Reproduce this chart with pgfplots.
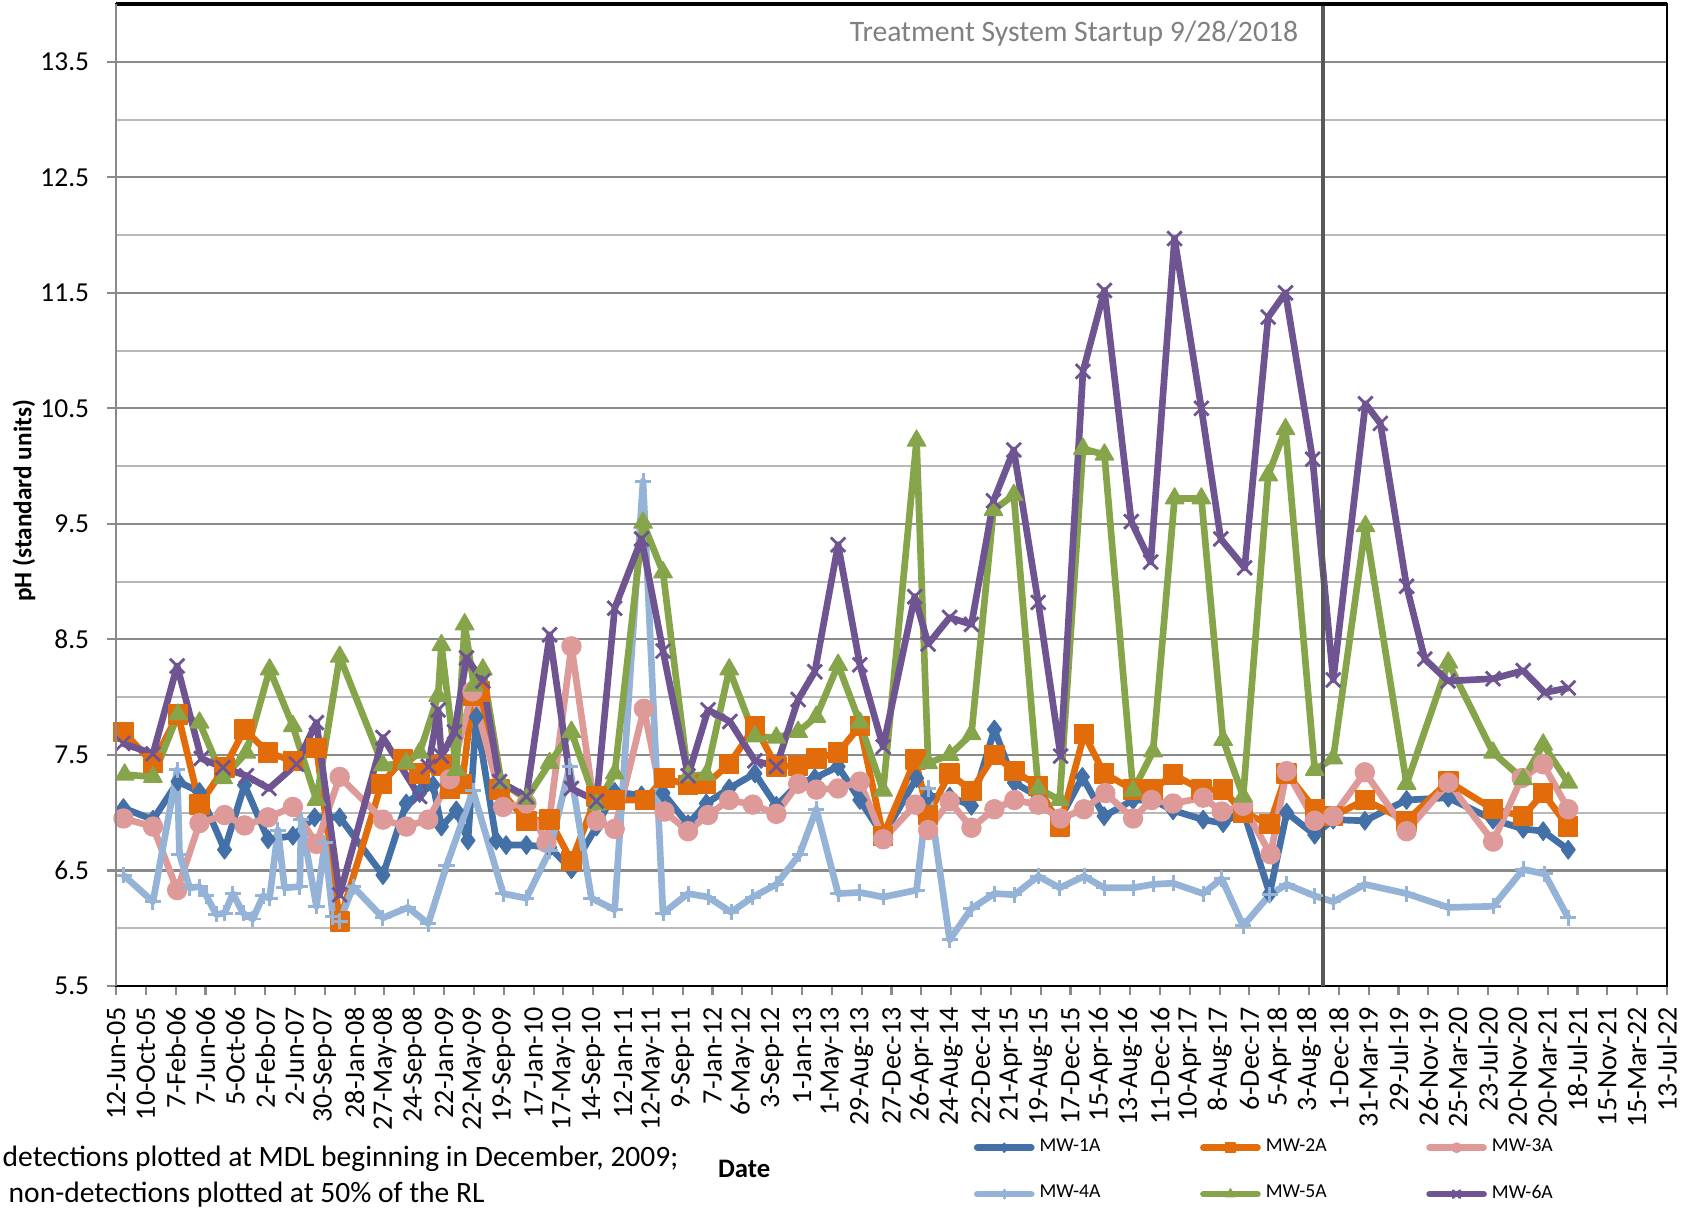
\documentclass[border=0pt]{standalone}
\usepackage{pgfplots}
\usepackage{pgfplotstable}
\pgfplotsset{compat=1.18}
\usepackage{fontspec}
\setmainfont{Carlito}

\definecolor{cA}{HTML}{4470A8}
\definecolor{cB}{HTML}{E36C0A}
\definecolor{cC}{HTML}{DD9A98}
\definecolor{cD}{HTML}{95B3D7}
\definecolor{cE}{HTML}{86A44A}
\definecolor{cF}{HTML}{6F5492}
\definecolor{gmaj}{HTML}{8A8A8A}
\definecolor{gmin}{HTML}{B8B8B8}

% x = position in units of the 120-day tick interval from 12-Jun-05
\pgfplotstableread{
t v
0.25 7.04
1.24 6.94
2.08 7.27
2.80 7.18
3.64 6.68
4.31 7.24
5.10 6.77
5.93 6.80
6.66 6.96
7.50 6.96
8.95 6.46
9.73 7.08
10.18 7.17
10.63 7.24
10.91 6.88
11.41 7.02
11.80 6.76
12.08 7.83
12.75 6.76
13.08 6.72
13.76 6.72
14.54 6.70
15.27 6.51
16.11 6.88
16.72 7.18
17.62 7.15
18.34 7.17
19.18 6.90
19.79 7.08
20.56 7.21
21.42 7.34
22.14 7.06
22.87 7.25
23.43 7.30
24.21 7.40
24.94 7.11
25.72 6.80
26.84 7.30
27.23 7.14
27.95 7.14
28.68 7.06
29.45 7.72
30.12 7.26
30.92 7.14
31.64 6.94
32.40 7.31
33.13 6.97
34.10 7.11
34.77 7.11
35.44 7.02
36.45 6.94
37.12 6.91
37.79 7.02
38.68 6.30
39.25 7.00
40.19 6.81
40.81 6.94
41.87 6.93
43.27 7.11
44.67 7.13
46.17 6.94
47.18 6.86
47.85 6.84
48.69 6.68
}\mwA

\pgfplotstableread{
t v
0.25 7.70
1.24 7.43
2.08 7.85
2.80 7.07
3.64 7.39
4.31 7.72
5.10 7.52
5.93 7.45
6.72 7.56
7.50 6.06
8.90 7.25
9.62 7.46
10.18 7.34
10.91 7.41
11.19 7.21
11.60 7.25
11.97 8.01
12.20 8.05
12.86 7.20
13.76 6.93
14.54 6.94
15.27 6.58
16.11 7.14
16.72 7.11
17.73 7.11
18.39 7.30
19.18 7.24
19.79 7.25
20.56 7.42
21.42 7.75
22.14 7.40
22.87 7.41
23.48 7.47
24.21 7.52
24.94 7.75
25.72 6.80
26.80 7.46
27.23 6.98
27.95 7.34
28.68 7.19
29.45 7.50
30.12 7.36
30.92 7.23
31.64 6.88
32.46 7.68
33.13 7.34
34.10 7.20
34.77 7.20
35.44 7.33
36.39 7.20
37.12 7.20
37.79 7.00
38.68 6.90
39.25 7.34
40.19 7.03
40.81 6.97
41.87 7.11
43.27 6.93
44.67 7.27
46.17 7.03
47.18 6.97
47.85 7.17
48.69 6.88
}\mwB

\pgfplotstableread{
t v
0.25 6.95
1.24 6.88
2.05 6.33
2.80 6.91
3.64 6.98
4.31 6.89
5.10 6.96
5.93 7.05
6.72 6.73
7.50 7.31
8.95 6.94
9.73 6.88
10.47 6.94
11.19 7.29
11.95 8.05
12.98 7.05
13.76 7.08
14.43 6.74
15.27 8.44
16.11 6.93
16.72 6.86
17.70 7.90
18.39 7.01
19.18 6.84
19.85 6.98
20.56 7.11
21.35 7.07
22.14 6.99
22.87 7.25
23.48 7.20
24.21 7.21
24.94 7.27
25.72 6.77
26.80 7.07
27.23 6.85
27.95 7.10
28.68 6.87
29.45 7.03
30.12 7.11
30.92 7.07
31.67 6.95
32.45 7.03
33.17 7.17
34.10 6.95
34.72 7.11
35.44 7.08
36.45 7.13
37.07 7.01
37.79 7.06
38.71 6.64
39.25 7.36
40.19 6.93
40.81 6.97
41.87 7.35
43.27 6.84
44.67 7.26
46.17 6.75
47.13 7.30
47.85 7.42
48.69 7.03
}\mwC

\pgfplotstableread{
t v
0.25 6.46
1.24 6.23
2.05 7.37
2.13 6.64
2.47 6.35
2.80 6.36
3.03 6.28
3.36 6.12
3.64 6.13
3.92 6.30
4.26 6.13
4.59 6.08
4.93 6.28
5.15 6.26
5.43 6.85
5.65 6.35
6.16 6.36
6.21 6.94
6.72 6.19
7.00 6.74
7.27 6.10
7.50 6.06
7.95 6.36
8.95 6.09
9.79 6.18
10.47 6.04
11.08 6.54
11.97 7.19
12.98 6.30
13.76 6.26
14.54 6.67
15.21 7.40
15.94 6.26
16.72 6.16
17.67 9.87
18.34 6.13
19.18 6.30
19.85 6.27
20.62 6.14
21.35 6.27
22.14 6.38
22.92 6.64
23.48 7.03
24.21 6.30
24.94 6.31
25.72 6.27
26.84 6.33
27.23 7.21
27.95 5.90
28.68 6.17
29.45 6.30
30.12 6.29
30.92 6.45
31.64 6.35
32.46 6.45
33.13 6.35
34.10 6.35
34.77 6.38
35.44 6.39
36.45 6.30
37.07 6.43
37.79 6.02
38.68 6.29
39.25 6.38
40.19 6.28
40.81 6.23
41.87 6.38
43.27 6.30
44.67 6.18
46.17 6.19
47.18 6.51
47.90 6.47
48.69 6.09
}\mwD

\pgfplotstableread{
t v
0.29 7.33
1.24 7.31
2.08 7.85
2.80 7.78
3.59 7.30
4.37 7.52
5.15 8.24
5.93 7.75
6.72 7.11
7.50 8.35
8.95 7.41
9.73 7.43
10.18 7.52
10.80 8.01
10.91 8.45
11.41 7.37
11.69 8.63
12.00 8.10
12.30 8.24
12.92 7.26
13.76 7.12
14.54 7.43
15.27 7.70
16.11 7.07
16.72 7.34
17.67 9.51
18.34 9.08
19.18 7.32
19.79 7.33
20.56 8.24
21.42 7.66
22.14 7.65
22.87 7.70
23.48 7.83
24.21 8.28
24.94 7.78
25.72 7.19
26.84 10.22
27.23 7.43
27.95 7.50
28.68 7.68
29.42 9.62
30.10 9.75
30.92 7.21
31.64 7.11
32.42 10.15
33.14 10.10
34.10 7.19
34.77 7.53
35.49 9.72
36.39 9.72
37.12 7.63
37.79 7.14
38.63 9.92
39.21 10.32
40.19 7.37
40.81 7.47
41.89 9.48
43.27 7.25
44.67 8.30
46.17 7.52
47.18 7.29
47.85 7.59
48.69 7.26
}\mwE

\pgfplotstableread{
t v
0.23 7.60
1.24 7.51
2.05 8.27
2.86 7.47
3.59 7.39
4.37 7.32
5.13 7.21
6.05 7.42
6.72 7.78
7.50 6.29
8.95 7.65
10.18 7.14
10.47 7.40
10.80 7.89
10.91 7.49
11.35 7.70
11.75 8.34
12.30 8.14
12.86 7.27
13.76 7.14
14.54 8.54
15.27 7.21
16.11 7.10
16.72 8.77
17.62 9.37
18.34 8.40
19.18 7.32
19.85 7.89
20.58 7.79
21.42 7.45
22.14 7.40
22.87 7.98
23.43 8.22
24.21 9.32
24.94 8.28
25.72 7.57
26.78 8.87
27.23 8.46
27.95 8.69
28.68 8.63
29.42 9.70
30.10 10.14
30.92 8.82
31.67 7.49
32.42 10.82
33.14 11.52
34.04 9.52
34.69 9.17
35.49 11.97
36.39 10.50
37.04 9.37
37.84 9.12
38.63 11.29
39.21 11.50
40.12 10.06
40.81 8.15
41.89 10.54
42.39 10.37
43.27 8.96
43.88 8.33
44.66 8.14
46.17 8.16
47.18 8.23
47.90 8.04
48.69 8.08
}\mwF

\begin{document}
\begin{tikzpicture}
\begin{axis}[
  name=main,
  at={(0,0)}, anchor=south west,
  width=155.1mm, height=98.2mm, scale only axis,
  xmin=0, xmax=52, ymin=5.5, ymax=14,
  xtick={0,1,...,52},
  xticklabels={12-Jun-05,10-Oct-05,7-Feb-06,7-Jun-06,5-Oct-06,2-Feb-07,2-Jun-07,30-Sep-07,28-Jan-08,27-May-08,24-Sep-08,22-Jan-09,22-May-09,19-Sep-09,17-Jan-10,17-May-10,14-Sep-10,12-Jan-11,12-May-11,9-Sep-11,7-Jan-12,6-May-12,3-Sep-12,1-Jan-13,1-May-13,29-Aug-13,27-Dec-13,26-Apr-14,24-Aug-14,22-Dec-14,21-Apr-15,19-Aug-15,17-Dec-15,15-Apr-16,13-Aug-16,11-Dec-16,10-Apr-17,8-Aug-17,6-Dec-17,5-Apr-18,3-Aug-18,1-Dec-18,31-Mar-19,29-Jul-19,26-Nov-19,25-Mar-20,23-Jul-20,20-Nov-20,20-Mar-21,18-Jul-21,15-Nov-21,15-Mar-22,13-Jul-22},
  xticklabel style={rotate=90, anchor=east, font=\fontsize{8}{9}\selectfont},
  ytick={5.5,6.5,...,13.5},
  minor ytick={6,7,...,14},
  yticklabel style={font=\fontsize{7.8}{9}\selectfont, xshift=-0.6mm},
  /pgf/number format/.cd, fixed, fixed zerofill, precision=1, assume math mode=true,
  /pgfplots/.cd,
  xtick pos=bottom, ytick pos=left,
  tick align=outside,
  major tick length=0.85mm,
  minor tick length=0pt,
  tick style={gmaj, line width=0.6pt},
  ymajorgrids, yminorgrids,
  major grid style={gmaj, line width=0.6pt},
  minor grid style={gmin, line width=0.6pt},
  axis line style={black, line width=0.7pt},
  xlabel={Date},
  xlabel style={font=\fontsize{7.6}{9}\selectfont\bfseries, at={(axis description cs:0.405,-0.1866)}, anchor=center},
  ylabel={pH (standard units)},
  ylabel style={font=\fontsize{7.2}{9}\selectfont\bfseries, at={(axis description cs:-0.0593,0.494)}, anchor=center},
  legend columns=3,
  legend cell align=left,
  legend style={at={(axis description cs:0.5527,-0.1537)}, anchor=north west, draw=none, fill=none,
    inner sep=0pt, font=\fontsize{5.6}{6}\selectfont, row sep=2.6mm, column sep=0pt,
    nodes={inner sep=0.3pt},
    /tikz/every odd column/.append style={column sep=0.4mm},
    /tikz/every even column/.append style={column sep=9.85mm}},
  legend image code/.code={%
    \draw[#1, line cap=round, every mark/.append style={scale=0.5}, mark repeat=2, mark phase=2]
      plot coordinates {(0mm,0mm) (2.7mm,0mm) (5.4mm,0mm)};},
  every axis plot/.append style={line width=1.9pt, line join=round},
]
\addplot[cA, mark=diamond*, mark size=2.6pt, mark options={fill=cA, line width=0.4pt}] table[x=t,y=v] {\mwA};
\addlegendentry{MW-1A}
\addplot[cB, mark=square*, mark size=2.7pt, mark options={fill=cB, line width=0.4pt}] table[x=t,y=v] {\mwB};
\addlegendentry{MW-2A}
\addplot[cC, mark=*, mark size=2.7pt, mark options={fill=cC, line width=0.4pt}] table[x=t,y=v] {\mwC};
\addlegendentry{MW-3A}
\addplot[cD, mark=+, mark size=2.3pt, mark options={line width=0.85pt}] table[x=t,y=v] {\mwD};
\addlegendentry{MW-4A}
\addplot[cE, mark=triangle*, mark size=3.0pt, mark options={fill=cE, line width=0.4pt}] table[x=t,y=v] {\mwE};
\addlegendentry{MW-5A}
\addplot[cF, mark=x, mark size=2.9pt, mark options={line width=0.8pt}] table[x=t,y=v] {\mwF};
\addlegendentry{MW-6A}
% treatment startup 28-Sep-2018
\addplot[forget plot, color=black!65, line width=1pt, mark=none] coordinates {(40.467,5.5) (40.467,14)};
\node[anchor=east, text=black!50, font=\fontsize{8.45}{10}\selectfont, inner sep=0pt] at (axis cs:39.66,13.74) {Treatment System Startup 9/28/2018};
\end{axis}
\draw[black, line width=1.1pt] (main.north west) -- (main.north east);
\draw[gmaj, line width=0.8pt] (main.south west) -- (main.north west);
\node[anchor=west, inner sep=0pt, font=\fontsize{8.4}{9}\selectfont] at (-11.4mm,-17.3mm) {detections plotted at MDL beginning in December, 2009;};
\node[anchor=west, inner sep=0pt, font=\fontsize{8.4}{9}\selectfont] at (-10.8mm,-20.9mm) {non-detections plotted at 50\% of the RL};
\pgfresetboundingbox
\useasboundingbox (-11.6mm,-22.5mm) rectangle (157.4mm,98.6mm);
\end{tikzpicture}
\end{document}
